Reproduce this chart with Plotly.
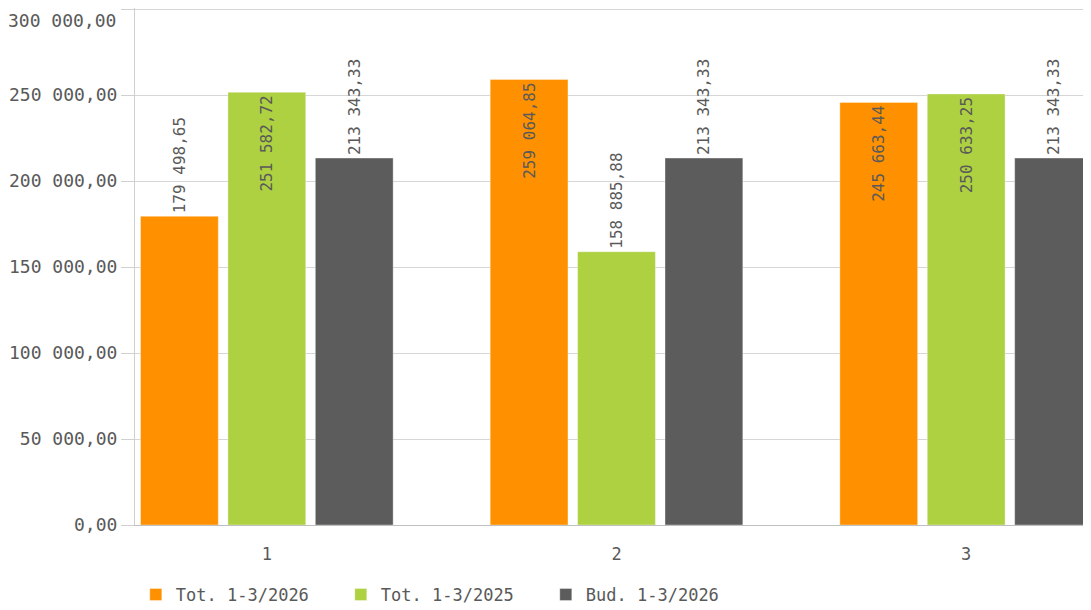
import plotly.graph_objects as go

categories = [1, 2, 3]
tot_2026 = [179498.65, 259064.85, 245663.44]
tot_2025 = [251582.72, 158885.88, 250633.25]
bud_2026 = [213343.33, 213343.33, 213343.33]

series_names = ["Tot. 1-3/2026", "Tot. 1-3/2025", "Bud. 1-3/2026"]
series_values = [tot_2026, tot_2025, bud_2026]
series_colors = ["#FF9100", "#AED142", "#5C5C5C"]
text_positions = [
    ["outside", "inside", "inside"],
    ["inside", "outside", "inside"],
    ["outside", "outside", "outside"],
]
y_ticks = [0, 50000, 100000, 150000, 200000, 250000, 300000]


def fmt(v):
    return f"{v:,.2f}".replace(",", " ").replace(".", ",")


# top label is drawn a little lower (as in the reference) via an annotation
y_ticktext = [fmt(v) for v in y_ticks[:-1]] + [""]

TEXT = "#595959"
FONT = "DejaVu Sans Mono"

fig = go.Figure()
for name, vals, col, tpos in zip(series_names, series_values, series_colors, text_positions):
    fig.add_trace(go.Bar(
        x=categories, y=vals, name=name,
        marker=dict(color=col, line=dict(color="rgba(255,255,255,0.35)", width=1)),
        texttemplate="%{y:,.2f}",
        textposition=tpos,
        textangle=-90,
        insidetextanchor="end",
        textfont=dict(family=FONT, size=16, color=TEXT),
        insidetextfont=dict(family=FONT, size=16, color=TEXT),
        outsidetextfont=dict(family=FONT, size=16, color=TEXT),
        cliponaxis=False,
        constraintext="none",
        hoverinfo="skip",
    ))

fig.add_annotation(
    x=0, xref="paper", y=y_ticks[-1], yref="y",
    text=fmt(y_ticks[-1]), showarrow=False,
    xanchor="right", yanchor="middle", xshift=-17, yshift=-11,
    font=dict(family=FONT, size=18, color=TEXT),
)

fig.update_layout(
    width=1083, height=602,
    margin=dict(l=127, r=0, t=0, b=85, autoexpand=False),
    paper_bgcolor="white", plot_bgcolor="white",
    separators=", ",
    barmode="group", bargap=0.25, bargroupgap=0.11,
    font=dict(family=FONT, color=TEXT, size=15),
    xaxis=dict(
        range=[0.623, 3.357], tickvals=categories, ticktext=[str(c) for c in categories],
        showgrid=False, zeroline=False, showline=True, linecolor="#bfbfbf", linewidth=1,
        ticks="", ticklabelstandoff=14, automargin=False,
        tickfont=dict(family=FONT, size=17, color=TEXT),
    ),
    yaxis=dict(
        range=[0, 300600], tickvals=y_ticks, ticktext=y_ticktext,
        automargin=False,
        showgrid=True, gridcolor="#d6d6d6", gridwidth=1,
        zeroline=False, showline=True, linecolor="#d0d0d0", linewidth=1,
        ticks="outside", ticklen=13, tickcolor="#d0d0d0",
        ticklabeloverflow="allow",
        tickfont=dict(family=FONT, size=18, color=TEXT),
    ),
    showlegend=True,
    legend=dict(
        orientation="h", xref="container", yref="container",
        x=0.118, y=0.025, xanchor="left", yanchor="middle",
        font=dict(family=FONT, size=17, color=TEXT),
        entrywidth=160, entrywidthmode="pixels",
        traceorder="normal",
    ),
)

fig.write_html("out.html")
